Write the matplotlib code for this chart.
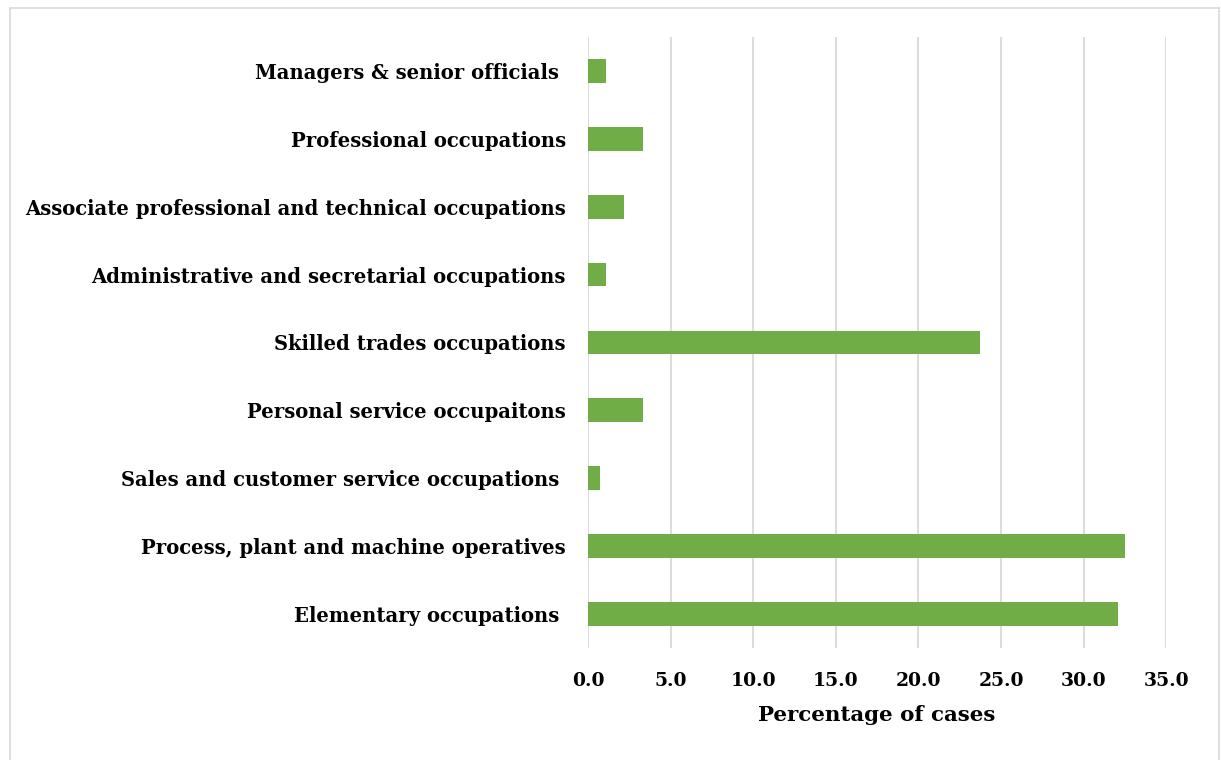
import matplotlib
matplotlib.use("Agg")
import matplotlib.pyplot as plt
from matplotlib.patches import Rectangle

occupations = [
    "Managers & senior officials ",
    "Professional occupations",
    "Associate professional and technical occupations",
    "Administrative and secretarial occupations",
    "Skilled trades occupations",
    "Personal service occupaitons",
    "Sales and customer service occupations ",
    "Process, plant and machine operatives",
    "Elementary occupations ",
]
percent_cases = [1.1, 3.3, 2.2, 1.1, 23.7, 3.3, 0.7, 32.5, 32.1]
x_ticks = [0, 5, 10, 15, 20, 25, 30, 35]

plt.rcParams["font.family"] = ["DejaVu Serif"]
plt.rcParams["font.weight"] = "bold"

fig = plt.figure(figsize=(12.21, 7.60), dpi=100)
ax = fig.add_axes([0.4816, 0.1474, 0.9552 - 0.4816, 0.9513 - 0.1474])

pos = list(range(len(occupations)))
ax.barh(pos, percent_cases, height=0.35, color="#70AD47", zorder=3)

ax.set_ylim(len(occupations) - 0.5, -0.5)
ax.set_xlim(0, 35)
ax.set_yticks(pos)
ax.set_yticklabels(occupations, fontsize=14.1, fontweight="bold")
ax.set_xticks(x_ticks)
ax.set_xticklabels([f"{v:.1f}" for v in x_ticks], fontsize=13.5, fontweight="bold")
ax.tick_params(axis="y", length=0, pad=16)
ax.tick_params(axis="x", length=0, pad=17)
ax.grid(axis="x", color="#D9D9D9", linewidth=1.3, zorder=0)
for s in ax.spines.values():
    s.set_visible(False)

ax.set_xlabel("Percentage of cases", fontsize=15.4, fontweight="bold", labelpad=11)

# light frame around the chart area
fig.patches.append(Rectangle((10 / 1221, -0.05), 1209 / 1221, 1 - 8 / 760 + 0.05,
                             transform=fig.transFigure, fill=False,
                             edgecolor="#D9D9D9", linewidth=1.2))

fig.savefig("out.png", dpi=100)
